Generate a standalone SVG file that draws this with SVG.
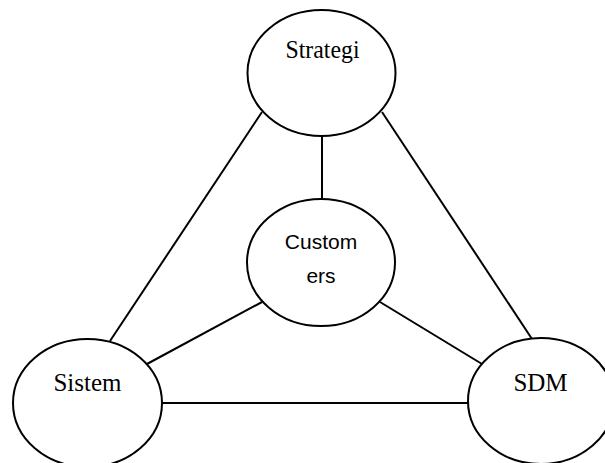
<svg xmlns="http://www.w3.org/2000/svg" width="605" height="463" viewBox="0 0 605 463">
<style>
.n{fill:#fff;stroke:#000;stroke-width:2}
.c line{stroke:#000;stroke-width:2}
.t{font-family:"Liberation Serif","Times New Roman",serif;font-size:25px;fill:#000;text-anchor:middle}
.s{font-family:"Liberation Sans",Arial,sans-serif;font-size:21px;fill:#000;text-anchor:middle}
</style>
<rect width="605" height="463" fill="#fff"/>
<g id="connectors" class="c">
<line x1="322" y1="136" x2="322" y2="199"/>
<line x1="262" y1="112" x2="110" y2="341"/>
<line x1="382" y1="112" x2="532" y2="339"/>
<line x1="262" y1="302" x2="147" y2="364"/>
<line x1="380" y1="302" x2="482" y2="364"/>
<line x1="162" y1="403" x2="468" y2="403"/>
</g>
<g id="strategi">
<ellipse class="n" cx="321.5" cy="73" rx="74" ry="63"/>
<text class="t" x="322.5" y="58" textLength="74" lengthAdjust="spacingAndGlyphs">Strategi</text>
</g>
<g id="customers">
<ellipse class="n" cx="321" cy="262.5" rx="74" ry="63.5"/>
<text class="s" x="321" y="249">Custom</text>
<text class="s" x="321" y="283">ers</text>
</g>
<g id="sistem">
<ellipse class="n" cx="87.5" cy="403" rx="74.5" ry="64"/>
<text class="t" x="87.5" y="391">Sistem</text>
</g>
<g id="sdm">
<ellipse class="n" cx="541" cy="401" rx="73" ry="63"/>
<text class="t" x="540.5" y="391">SDM</text>
</g>
</svg>
